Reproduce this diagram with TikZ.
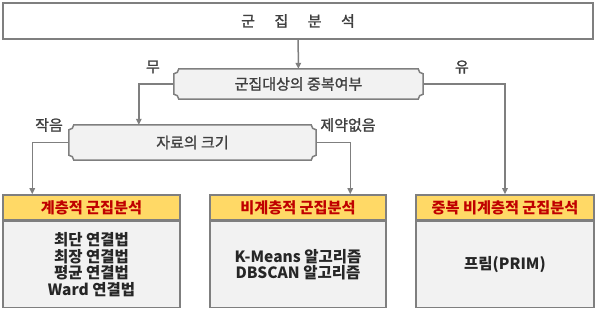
\documentclass[tikz,border=0pt]{standalone}
\usepackage{fontspec}
\setmainfont{Noto Sans CJK KR}
\newfontfamily\midfont[FakeBold=1.3]{Noto Sans CJK KR}
\usepackage{xcolor}
\usepackage{tikz}
\usetikzlibrary{positioning,arrows.meta,backgrounds}

\definecolor{linegray}{HTML}{7F7F7F}
\definecolor{boxgray}{HTML}{F2F2F2}
\definecolor{headyellow}{HTML}{FFD966}
\definecolor{headred}{HTML}{C00000}
\definecolor{textgray}{HTML}{404040}

\begin{document}
\begin{tikzpicture}[
				x=1pt, y=1pt,
				font=\midfont\fontsize{15}{16.5}\selectfont,
				title/.style={
					draw=linegray,
					line width=1.5pt,
					fill=white,
					inner sep=0pt,
					text=textgray,
					minimum width=590pt,
					minimum height=36pt
				},
				choice/.style={
					inner sep=0pt,
					text=textgray,
					minimum height=#1
				},
				plaque/.style={
					draw=linegray,
					line width=1.5pt,
					fill=boxgray
				},
				head/.style={
					draw=linegray,
					line width=1.5pt,
					fill=headyellow,
					inner sep=0pt,
					text=headred,
					font=\fontsize{15.2}{16.5}\selectfont\bfseries,
					minimum height=25pt
				},
				body/.style={
					draw=linegray,
					line width=1.5pt,
					fill=boxgray,
					inner sep=0pt,
					text=black!85,
					align=center,
					font=\fontsize{15.5}{16.5}\selectfont\bfseries,
					minimum height=86pt
				},
				tag/.style={
					text=textgray,
					inner sep=0pt
				},
				arr/.style={
					-{Triangle[length=6pt,width=5.5pt]},
					draw=linegray,
					line width=1.5pt
				}
				]
				\useasboundingbox (0,0) rectangle (597,310);
				
				\node[title] (top) at (298,289) {군\hspace{1.3em}집\hspace{1.3em}분\hspace{1.3em}석};
				\node[choice=30pt, minimum width=249pt] (overlap) at (298.5,226) {군집대상의 중복여부};
				\node[choice=35pt, minimum width=247pt] (size) at (192.5,167.5) {자료의 크기};
				
				\node[head, minimum width=177pt] (h1) at (91.5,102.5) {계층적 군집분석};
				\node[head, minimum width=176pt] (h2) at (298,102.5) {비계층적 군집분석};
				\node[head, minimum width=178pt] (h3) at (505,102.5) {중복 비계층적 군집분석};
				
				\node[body, minimum width=177pt, below=0pt of h1] (b1) {최단 연결법\\최장 연결법\\평균 연결법\\Ward 연결법};
				\node[body, minimum width=176pt, below=0pt of h2] (b2) {K-Means 알고리즘\\DBSCAN 알고리즘};
				\node[body, minimum width=178pt, below=0pt of h3] (b3) {프림(PRIM)};
				
				\begin{scope}[on background layer]
					\foreach \n in {overlap,size}
					\draw[plaque] ([xshift=5pt]\n.north west) -- ([xshift=-5pt]\n.north east)
						arc[start angle=180, end angle=270, radius=5pt] -- ([yshift=5pt]\n.south east)
						arc[start angle=90, end angle=180, radius=5pt] -- ([xshift=5pt]\n.south west)
						arc[start angle=0, end angle=90, radius=5pt] -- ([yshift=-5pt]\n.north west)
						arc[start angle=270, end angle=360, radius=5pt] -- cycle;
				\end{scope}
				
				\draw[arr] (top) -- (overlap);
				\draw[arr] (overlap.west) -| ([xshift=70pt]size.north west);
				\draw[arr] (overlap.east) -| (h3.north);
				\draw[arr] (size.west) -| ([xshift=30pt]h1.north west);
				\draw[arr] (size.east) -| ([xshift=141pt]h2.north west);
				
				\node[tag] (none) at (153,243) {무};
				\node[tag] (some) at (462,243) {유};
				\node[tag] (small) at (49,185) {작음};
				\node[tag] (free) at (348,185) {제약없음};
			\end{tikzpicture}
\end{document}
